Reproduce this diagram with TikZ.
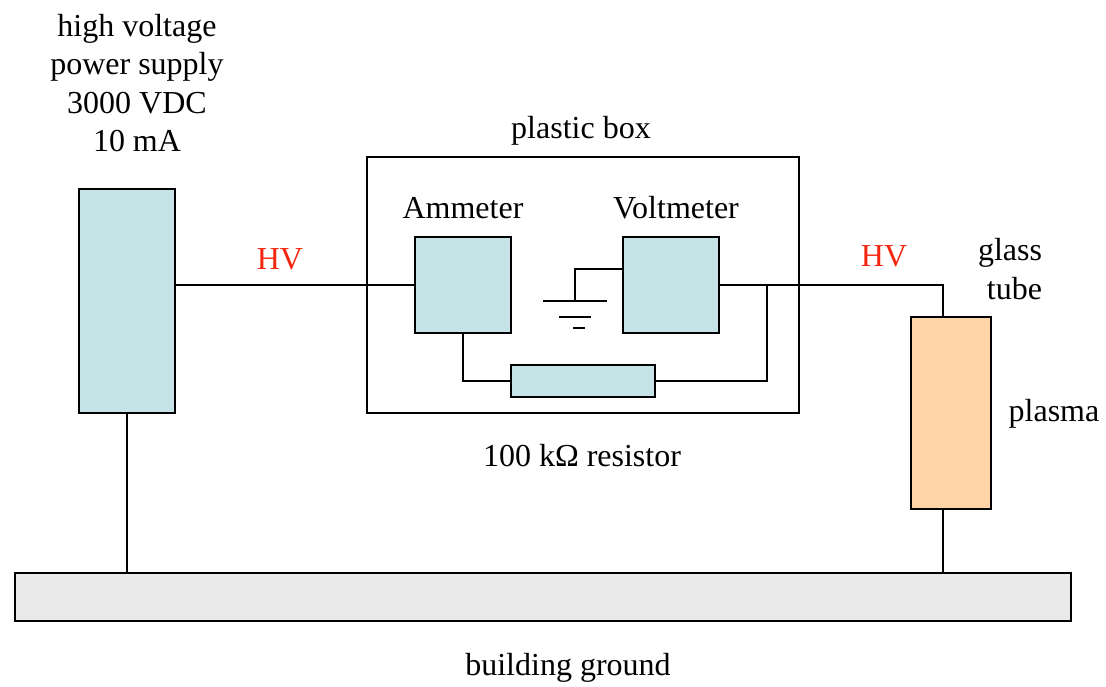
\documentclass[tikz,border=0pt]{standalone}
\usepackage{fontspec}
\setmainfont{Liberation Serif}
\definecolor{boxblue}{HTML}{C6E4E8}
\definecolor{tubeor}{HTML}{FFD5A8}
\definecolor{gndgray}{HTML}{EAEAEA}
\definecolor{hvred}{HTML}{F5260F}
\tikzset{
  part/.style={draw=black,line width=1.8pt,fill=boxblue,inner sep=0pt,outer sep=0pt,anchor=north west},
  lab/.style={font=\fontsize{32}{38.5}\selectfont,align=center,text=black,inner sep=0pt},
  hv/.style={lab,text=hvred},
  wire/.style={draw=black,line width=1.8pt}}
\begin{document}
\begin{tikzpicture}[x=1pt,y=-1pt]
\useasboundingbox (0,0) rectangle (1106,686);
\node[part,fill=none,minimum width=432pt,minimum height=256pt] (plastic) at (367,157) {};
\node[part,minimum width=96pt,minimum height=224pt] (supply) at (79,189) {};
\node[part,minimum width=96pt,minimum height=96pt] (amm) at (415,237) {};
\node[part,minimum width=96pt,minimum height=96pt] (volt) at (623,237) {};
\node[part,minimum width=144pt,minimum height=32pt] (res) at (511,365) {};
\node[part,fill=tubeor,minimum width=80pt,minimum height=192pt] (tube) at (911,317) {};
\node[part,fill=gndgray,minimum width=1056pt,minimum height=48pt] (ground) at (15,573) {};
\coordinate (gtop) at (575,301);
\coordinate (j) at (767,285);
\draw[wire] (supply.east |- 0,285) -- (amm.west |- 0,285);
\draw[wire] (volt.east |- 0,285) -- (943,285) -- (tube.north -| 943,0);
\draw[wire] (j) -- (767,381) -- (res.east |- 0,381);
\draw[wire] (amm.south -| 463,0) -- (463,381) -- (res.west |- 0,381);
\draw[wire] (volt.west |- 0,269) -- (575,269) -- (gtop);
\draw[wire] (543,301) -- (607,301);
\draw[wire] (559,317) -- (591,317);
\draw[wire] (573,328) -- (585,328);
\draw[wire] (supply.south -| 127,0) -- (ground.north -| 127,0);
\draw[wire] (tube.south -| 943,0) -- (ground.north -| 943,0);
\node[lab] (t1) at (137,83) {high voltage\\power supply\\3000 VDC\\10 mA};
\node[lab] (t2) at (581,131) {plastic box};
\node[lab] (t3) at (463,208) {Ammeter};
\node[lab] (t4) at (676,208) {Voltmeter};
\node[hv] (t5) at (280,259) {HV};
\node[hv] (t6) at (884,256) {HV};
\node[lab,align=right] (t7) at (1010,269) {glass\\tube};
\node[lab] (t8) at (1054,414) {plasma};
\node[lab] (t9) at (582,456) {100 kΩ resistor};
\node[lab] (t10) at (568,668) {building ground};
\end{tikzpicture}
\end{document}
